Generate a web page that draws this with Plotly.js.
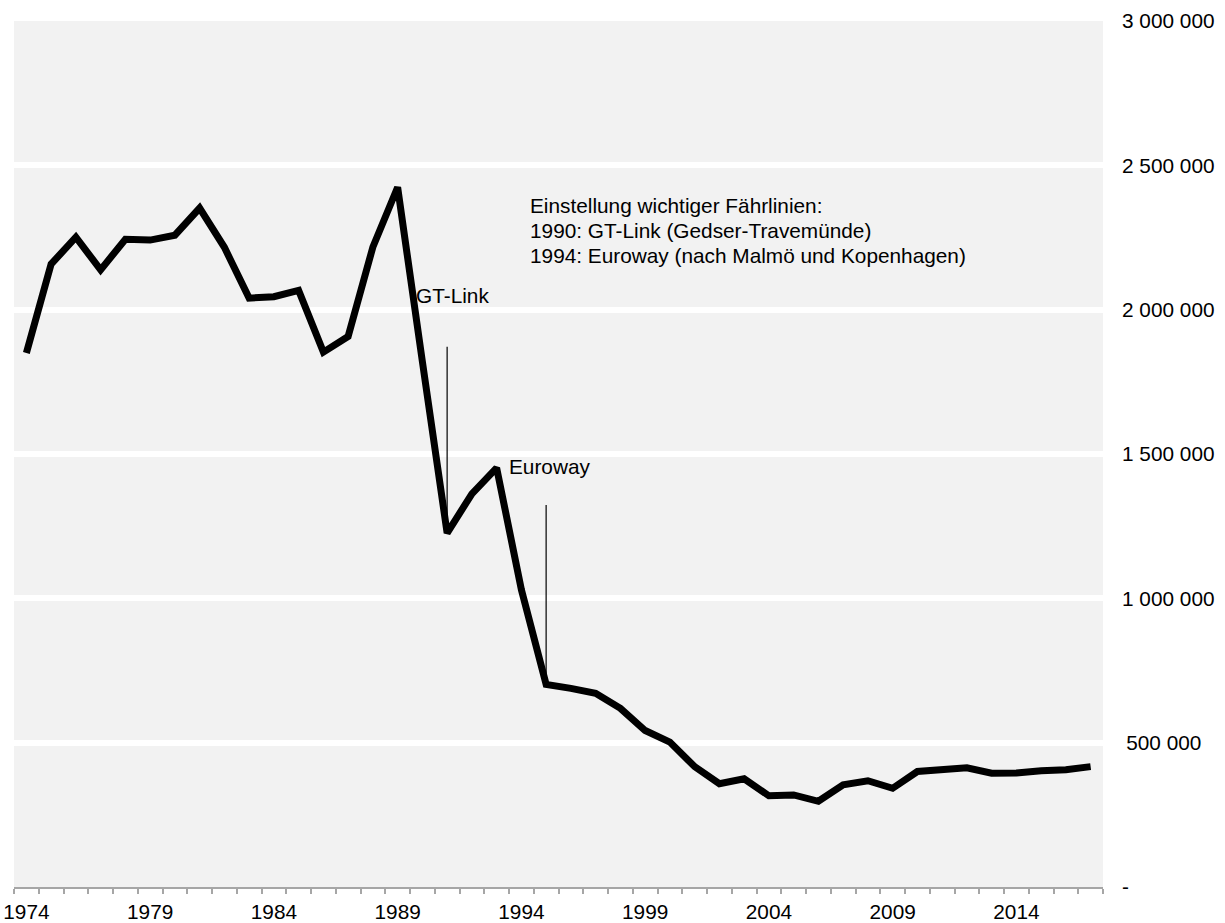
<!DOCTYPE html>
<html>
<head>
<meta charset="utf-8">
<script src="https://cdn.plot.ly/plotly-3.0.1.min.js"></script>
<style>
html, body { margin: 0; padding: 0; background: #ffffff; }
#chart { width: 1225px; height: 923px; }
</style>
</head>
<body>
<div id="chart"></div>
<script>
// ---- data ----
const years = [1974,1975,1976,1977,1978,1979,1980,1981,1982,1983,1984,1985,1986,1987,1988,1989,
  1990,1991,1992,1993,1994,1995,1996,1997,1998,1999,2000,2001,2002,2003,2004,2005,2006,2007,
  2008,2009,2010,2011,2012,2013,2014,2015,2016,2017];
const passengers = [1850000,2158000,2251000,2138000,2244000,2241000,2258000,2352000,2216000,2040000,
  2045000,2067000,1853000,1907000,2217000,2424000,
  1820000,1226000,1362000,1452000,1030000,702000,688000,671000,619000,542000,502000,417000,358000,
  375000,316000,319000,297000,354000,368000,342000,400000,406000,413000,394000,395000,403000,406000,417000];
const xLabelYears = [1974,1979,1984,1989,1994,1999,2004,2009,2014];
const yTickVals = [0,500000,1000000,1500000,2000000,2500000,3000000];
const yTickText = ['-','\u2009500 000','1 000 000','1 500 000','2 000 000','2 500 000','3 000 000'];
const noteLines = ['Einstellung wichtiger Fährlinien:','1990: GT-Link (Gedser-Travemünde)','1994: Euroway (nach Malmö und Kopenhagen)'];
const markerYears = [1991,1995];
const markerLabels = ['GT-Link','Euroway'];
const markerTops = [1871500,1323400];

// ---- layout helpers ----
const FONT = 'Liberation Sans, Arial, sans-serif';
const FS = 20.8;

const trace = {
  x: years, y: passengers, type: 'scatter', mode: 'lines',
  line: { color: '#000000', width: 7 }, hoverinfo: 'skip', showlegend: false
};

const shapes = markerYears.map((yr, i) => ({
  type: 'line', xref: 'x', yref: 'y', x0: yr, x1: yr,
  y0: markerTops[i], y1: passengers[years.indexOf(yr)],
  line: { color: '#000000', width: 1.2 }, layer: 'above'
}));

const noteX = 1994.27;
const noteY = [2360000, 2273300, 2186800];
const labelPos = [{ x: 1989.67, y: 2050000 }, { x: 1993.42, y: 1455700 }];

const annotations = noteLines.map((t, i) => ({
  text: t, xref: 'x', yref: 'y', x: noteX, y: noteY[i], xanchor: 'left', yanchor: 'middle',
  showarrow: false, font: { family: FONT, size: FS, color: '#000' }
})).concat(markerLabels.map((t, i) => ({
  text: t, xref: 'x', yref: 'y', x: labelPos[i].x, y: labelPos[i].y, xanchor: 'left', yanchor: 'middle',
  showarrow: false, font: { family: FONT, size: FS, color: '#000' }
})));

const layout = {
  width: 1225, height: 923,
  margin: { l: 14, r: 122.3, t: 20.6, b: 35.8, pad: 0 },
  paper_bgcolor: '#ffffff', plot_bgcolor: '#f2f2f2',
  showlegend: false,
  font: { family: FONT, size: FS, color: '#000' },
  xaxis: {
    range: [1973.5, 2017.5], tickmode: 'array', tickvals: xLabelYears,
    ticktext: xLabelYears.map(String), ticks: '', showgrid: false, zeroline: false,
    showline: true, linecolor: '#a6a6a6', linewidth: 2.3, ticklabelstandoff: 5,
    tickfont: { family: FONT, size: FS, color: '#000' },
    minor: { tickmode: 'linear', tick0: 1973.5, dtick: 1, ticks: 'outside', ticklen: 5,
             tickwidth: 2, tickcolor: '#a6a6a6', showgrid: false },
    fixedrange: true
  },
  yaxis: {
    range: [0, 3000000], side: 'right', tickmode: 'array', tickvals: yTickVals, ticktext: yTickText,
    ticks: '', showgrid: true, gridcolor: '#ffffff', gridwidth: 6,
    zeroline: true, zerolinecolor: '#a6a6a6', zerolinewidth: 2.3,
    showline: false, ticklabelstandoff: 18,
    tickfont: { family: FONT, size: FS, color: '#000' }, fixedrange: true
  },
  shapes: shapes,
  annotations: annotations
};

Plotly.newPlot('chart', [trace], layout, { displayModeBar: false, staticPlot: true });
</script>
</body>
</html>
